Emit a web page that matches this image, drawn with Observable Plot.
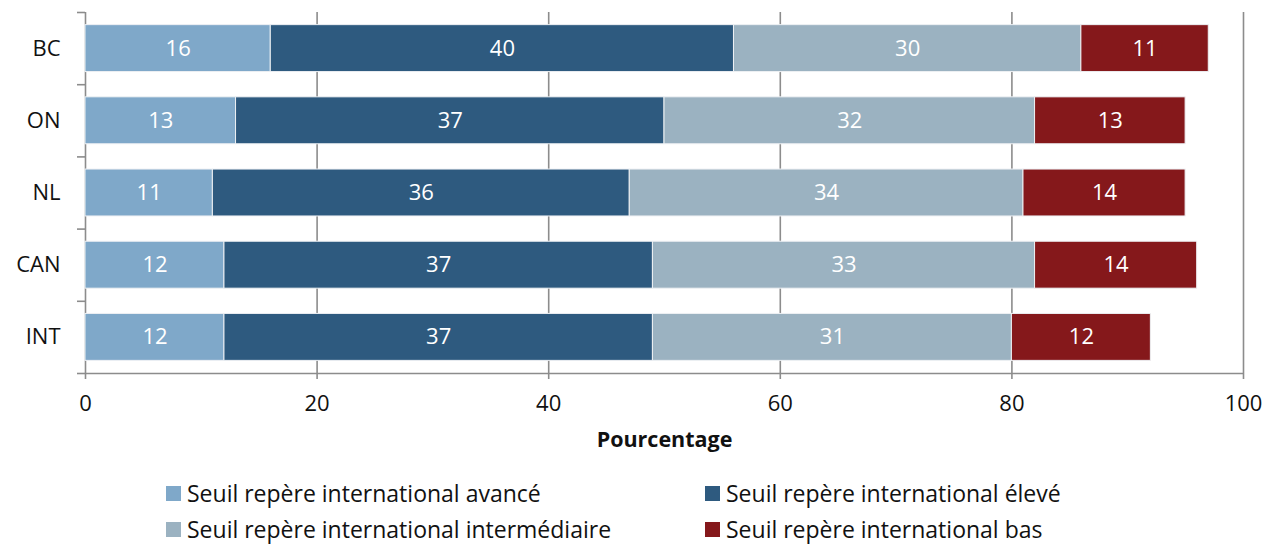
<!DOCTYPE html>
<html>
<head>
<meta charset="utf-8">
<script src="https://cdn.jsdelivr.net/npm/d3@7"></script>
<script src="https://cdn.jsdelivr.net/npm/@observablehq/plot@0.6"></script>
<style>
  html, body { margin: 0; padding: 0; background: #fff; }
  body { width: 1268px; font-family: "Open Sans", sans-serif; }
  #legend { display: grid; grid-template-columns: 539px auto; margin-left: 166px; padding-top: 20px; }
  .item { display: flex; align-items: center; height: 36px; font-size: 23px; color: #111; white-space: nowrap; }
  .sw { width: 15px; height: 15px; margin-right: 6px; flex: none; }
</style>
</head>
<body>
<div id="chart"></div>
<div id="legend"></div>
<script>
const categories = ["BC", "ON", "NL", "CAN", "INT"];
const seriesNames = [
  "Seuil repère international avancé",
  "Seuil repère international élevé",
  "Seuil repère international intermédiaire",
  "Seuil repère international bas"
];
const avance = [16, 13, 11, 12, 12];
const eleve = [40, 37, 36, 37, 37];
const intermediaire = [30, 32, 34, 33, 31];
const bas = [11, 13, 14, 14, 12];
const colors = ["#7FA8C9", "#2E5A7F", "#9BB2C1", "#85181B"];
const xTicks = [0, 20, 40, 60, 80, 100];
const legendOrder = [0, 1, 2, 3];
const xLabel = "Pourcentage";

const series = [avance, eleve, intermediaire, bas];
const rows = [];
categories.forEach((cat, i) => {
  let acc = 0;
  series.forEach((vals, s) => {
    const v = vals[i];
    rows.push({cat, idx: i, series: seriesNames[s], value: v, x1: acc, x2: acc + v});
    acc += v;
  });
});
const catRows = categories.map((c, i) => ({cat: c, idx: i}));
const pad = 0.175;
const n = categories.length;

const chart = Plot.plot({
  width: 1268,
  height: 455,
  marginLeft: 85,
  marginRight: 25,
  marginTop: 12,
  marginBottom: 82,
  style: {fontFamily: "'Open Sans', sans-serif", fontSize: "22px", background: "#fff"},
  x: {type: "linear", domain: [0, 100], axis: null},
  y: {type: "linear", domain: [0, n], reverse: true, axis: null},
  color: {domain: seriesNames, range: colors},
  marks: [
    Plot.ruleX(xTicks.slice(1), {stroke: "#8c8c8c", strokeWidth: 1.6, y1: 0, y2: n}),
    Plot.axisY({ticks: d3.range(n + 1), tickSize: 8, tickFormat: () => "", stroke: "#8c8c8c", strokeWidth: 1.6, label: null}),
    Plot.ruleX([0], {stroke: "#8c8c8c", strokeWidth: 1.6, y1: 0, y2: n}),
    Plot.rectX(rows, {
      x1: "x1", x2: "x2",
      y1: d => d.idx + pad, y2: d => d.idx + 1 - pad,
      fill: "series", stroke: "#eef1f4", strokeWidth: 1
    }),
    Plot.text(rows, {
      x: d => (d.x1 + d.x2) / 2, y: d => d.idx + 0.5,
      text: d => String(d.value), fill: "white", fontSize: 22
    }),
    Plot.text(catRows, {x: 0, y: d => d.idx + 0.5, text: "cat", textAnchor: "end", dx: -25, fill: "#111", fontSize: 22}),
    Plot.ruleY([n], {stroke: "#8c8c8c", strokeWidth: 1.6, x1: 0, x2: 100}),
    Plot.axisX({ticks: xTicks, tickSize: 6, tickPadding: 16, stroke: "#8c8c8c", strokeWidth: 1.6, fill: "#111", fontSize: 22, label: null, tickFormat: d => String(d)}),
    Plot.text([xLabel], {x: 50, y: n, dy: 67, text: d => d, fontWeight: "bold", fontSize: 21.5, fill: "#111"})
  ]
});
document.getElementById("chart").appendChild(chart);

const legend = document.getElementById("legend");
legendOrder.forEach(s => {
  const it = document.createElement("div");
  it.className = "item";
  const sw = document.createElement("span");
  sw.className = "sw";
  sw.style.background = colors[s];
  const t = document.createElement("span");
  t.textContent = seriesNames[s];
  it.appendChild(sw); it.appendChild(t);
  legend.appendChild(it);
});
</script>
</body>
</html>
